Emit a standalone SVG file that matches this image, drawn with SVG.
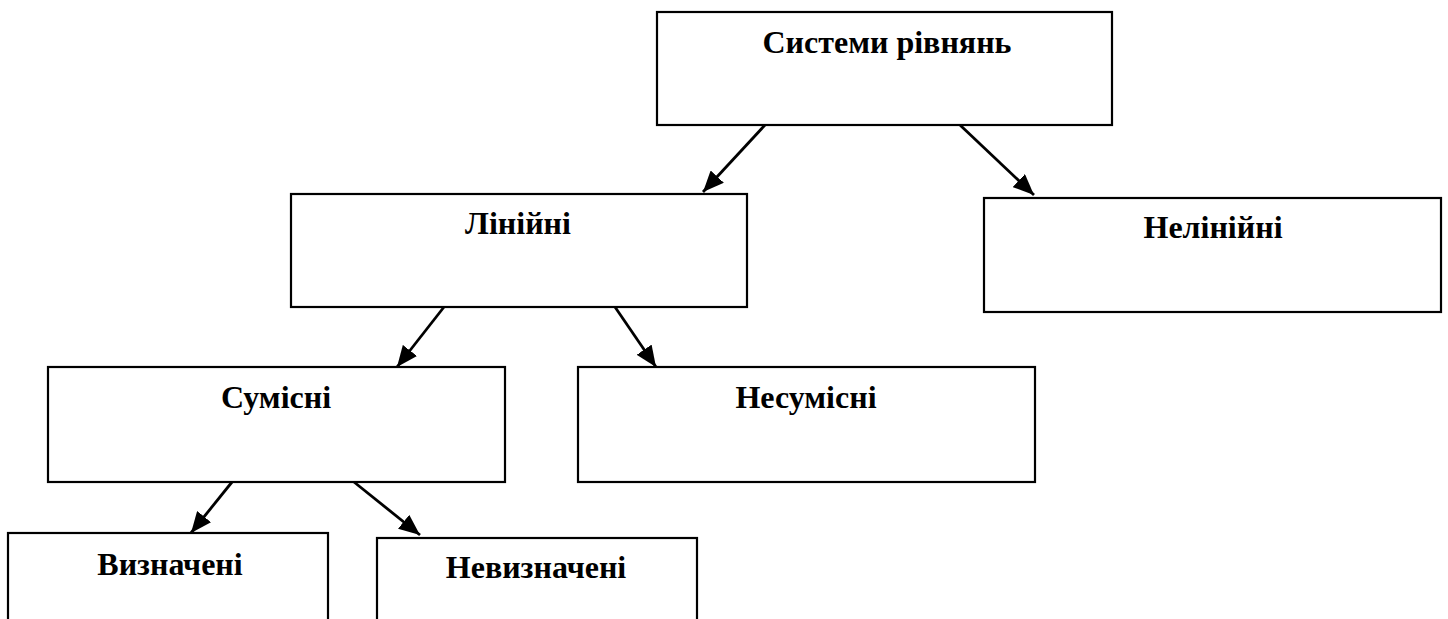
<svg xmlns="http://www.w3.org/2000/svg" width="1448" height="619" viewBox="0 0 1448 619">
<defs>
<style>
.box{fill:#fff;stroke:#000;stroke-width:2.2}
.lbl{font-family:"Liberation Serif","Times New Roman",serif;font-weight:bold;font-size:32px;fill:#000;text-anchor:middle}
.edge{stroke:#000;stroke-width:2.8;fill:none}
</style>
<marker id="ah" markerUnits="userSpaceOnUse" markerWidth="22" markerHeight="18" refX="21" refY="9" orient="auto">
<path d="M0,0 L21,9 L0,18 Z" fill="#000"/>
</marker>
</defs>
<rect width="1448" height="619" fill="#fff"/>
<g id="connectors">
<line class="edge" x1="765" y1="125" x2="703" y2="192" marker-end="url(#ah)"/>
<line class="edge" x1="960" y1="125" x2="1034" y2="195" marker-end="url(#ah)"/>
<line class="edge" x1="444" y1="307" x2="397" y2="367" marker-end="url(#ah)"/>
<line class="edge" x1="615" y1="307" x2="656" y2="367" marker-end="url(#ah)"/>
<line class="edge" x1="232" y1="482" x2="191" y2="533" marker-end="url(#ah)"/>
<line class="edge" x1="354" y1="482" x2="420" y2="535" marker-end="url(#ah)"/>
</g>
<g id="n-systems">
<rect class="box" x="657" y="12" width="455" height="113"/>
<text class="lbl" x="887" y="53">Системи рівнянь</text>
</g>
<g id="n-linear">
<rect class="box" x="291" y="194" width="456" height="113"/>
<text class="lbl" x="518" y="234">Лінійні</text>
</g>
<g id="n-nonlinear">
<rect class="box" x="984" y="198" width="457" height="114"/>
<text class="lbl" x="1213" y="238">Нелінійні</text>
</g>
<g id="n-consistent">
<rect class="box" x="48" y="367" width="457" height="115"/>
<text class="lbl" x="276" y="408">Сумісні</text>
</g>
<g id="n-inconsistent">
<rect class="box" x="578" y="367" width="457" height="115"/>
<text class="lbl" x="806" y="408">Несумісні</text>
</g>
<g id="n-determined">
<rect class="box" x="8" y="533" width="320" height="100"/>
<text class="lbl" x="170" y="575">Визначені</text>
</g>
<g id="n-undetermined">
<rect class="box" x="377" y="538" width="320" height="100"/>
<text class="lbl" x="536" y="578">Невизначені</text>
</g>
</svg>
